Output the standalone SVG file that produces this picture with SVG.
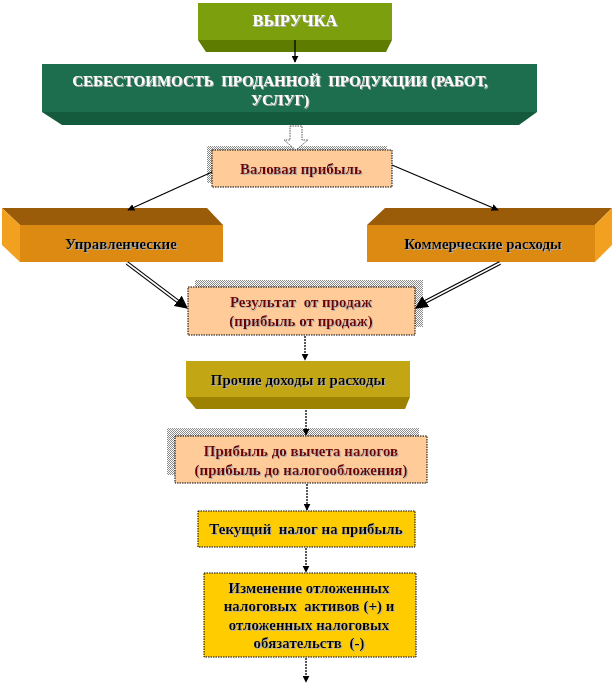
<svg xmlns="http://www.w3.org/2000/svg" width="614" height="685" viewBox="0 0 614 685">
<defs>
<pattern id="chk" width="2" height="2" patternUnits="userSpaceOnUse"><rect width="2" height="2" fill="#ffffff"/><rect width="1" height="1" fill="#8a8a8a"/><rect x="1" y="1" width="1" height="1" fill="#8a8a8a"/></pattern>
<marker id="ah" viewBox="0 0 10 10" refX="9" refY="5" markerWidth="7" markerHeight="7" orient="auto" markerUnits="userSpaceOnUse"><path d="M0,0 L10,5 L0,10 z" fill="#000"/></marker>
<marker id="ahb" viewBox="0 0 10 10" refX="9" refY="5" markerWidth="13" markerHeight="13" orient="auto" markerUnits="userSpaceOnUse"><path d="M0,0 L10,5 L0,10 z" fill="#000"/></marker>
<filter id="ts" x="-5%" y="-20%" width="110%" height="140%"><feDropShadow dx="1" dy="1" stdDeviation="0" flood-color="#b0b0b0"/></filter>
</defs>
<style>
text{font-family:"Liberation Serif","Times New Roman",serif;font-weight:bold;font-size:15px;text-anchor:middle;white-space:pre}
.w{fill:#ffffff}
.r{fill:#6e0000}
.k{fill:#000000}
.big{font-size:16.5px}
.peach{fill:#ffcc99;stroke:#000;stroke-width:1;stroke-dasharray:1.5 1}
.gold{fill:#ffcc00;stroke:#000;stroke-width:1;stroke-dasharray:1.5 1}
.sh{fill:url(#chk)}
.dl{stroke:#000;stroke-width:1.3;stroke-dasharray:2 1;fill:none}
</style>

<g id="vyruchka">
<polygon points="198,40 392,40 386,52 206,52" fill="#5e7d00"/>
<rect x="198" y="3" width="194" height="37" fill="#7c9f0e"/>
<text x="295" y="26" class="w big" filter="url(#ts)">ВЫРУЧКА</text>
</g>

<g id="sebestoimost">
<polygon points="42,112 537,112 519,125 62,125" fill="#145a3d"/>
<rect x="42" y="64" width="495" height="48" fill="#1c6e4e"/>
<text x="280" y="86" class="w" filter="url(#ts)">СЕБЕСТОИМОСТЬ  ПРОДАННОЙ  ПРОДУКЦИИ (РАБОТ,</text>
<text x="280" y="105" class="w" filter="url(#ts)">УСЛУГ)</text>
</g>

<g id="valovaya">
<rect x="207" y="146" width="180" height="37" class="sh"/>
<rect x="212" y="150" width="180" height="37" class="peach"/>
<text x="301" y="174" class="r" filter="url(#ts)">Валовая прибыль</text>
</g>

<g id="upravl">
<polygon points="2,208 207,208 223,225 20,225" fill="#9a5c08"/>
<polygon points="2,208 20,225 20,262 2,245" fill="#f2a020"/>
<rect x="20" y="225" width="203" height="37" fill="#dd8a12"/>
<text x="121" y="249" class="k" filter="url(#ts)">Управленческие</text>
</g>

<g id="kommerch">
<polygon points="385,208 612,208 595,225 367,225" fill="#9a5c08"/>
<polygon points="595,225 612,208 612,245 595,262" fill="#f2a020"/>
<rect x="367" y="225" width="228" height="37" fill="#dd8a12"/>
<text x="483" y="249" class="k" filter="url(#ts)">Коммерческие расходы</text>
</g>

<g id="rezultat">
<rect x="195" y="280" width="228" height="47" class="sh"/>
<rect x="188" y="287" width="227" height="48" class="peach"/>
<text x="301" y="307" class="r" filter="url(#ts)">Результат  от продаж</text>
<text x="301" y="326" class="r" filter="url(#ts)">(прибыль от продаж)</text>
</g>

<g id="prochie">
<polygon points="186,397 410,397 405,409 196,409" fill="#9c8200"/>
<rect x="186" y="361" width="224" height="36" fill="#c2a614"/>
<text x="298" y="385" class="k" filter="url(#ts)">Прочие доходы и расходы</text>
</g>

<g id="do_nalogov">
<rect x="167" y="428" width="252" height="47" class="sh"/>
<rect x="175" y="436" width="252" height="47" class="peach"/>
<text x="301" y="456" class="r" filter="url(#ts)">Прибыль до вычета налогов</text>
<text x="301" y="475" class="r" filter="url(#ts)">(прибыль до налогообложения)</text>
</g>

<g id="tekushiy">
<rect x="198" y="511" width="217" height="36" class="gold"/>
<text x="306" y="534" class="k" filter="url(#ts)">Текущий  налог на прибыль</text>
</g>

<g id="izmenenie">
<rect x="204" y="573" width="212" height="84" class="gold"/>
<text x="309" y="593" class="k" filter="url(#ts)">Изменение отложенных</text>
<text x="309" y="611" class="k" filter="url(#ts)">налоговых  активов (+) и</text>
<text x="309" y="630" class="k" filter="url(#ts)">отложенных налоговых</text>
<text x="309" y="648" class="k" filter="url(#ts)">обязательств  (-)</text>
</g>

<g id="connectors">
<line x1="295" y1="40" x2="295" y2="62" stroke="#000" stroke-width="1.3" marker-end="url(#ah)"/>
<polygon points="290,126 302,126 302,140 308,140 296,150 284,140 290,140" fill="#fff" stroke="#555" stroke-width="1" stroke-dasharray="1.5 1"/>
<line x1="212" y1="172" x2="128" y2="210" stroke="#000" stroke-width="1.2" marker-end="url(#ah)"/>
<line x1="392" y1="165" x2="498" y2="210" stroke="#000" stroke-width="1.2" marker-end="url(#ah)"/>
<line x1="127" y1="263" x2="180" y2="303" stroke="#000" stroke-width="4"/>
<line x1="127" y1="263" x2="180" y2="303" stroke="#fff" stroke-width="1.6"/>
<line x1="178" y1="301" x2="187" y2="308" stroke="#000" stroke-width="1" marker-end="url(#ahb)"/>
<line x1="500" y1="263" x2="423" y2="303" stroke="#000" stroke-width="4"/>
<line x1="500" y1="263" x2="423" y2="303" stroke="#fff" stroke-width="1.6"/>
<line x1="425" y1="302" x2="416" y2="308" stroke="#000" stroke-width="1" marker-end="url(#ahb)"/>
<line x1="305" y1="336" x2="305" y2="360" class="dl" marker-end="url(#ah)"/>
<line x1="306" y1="410" x2="306" y2="435" class="dl" marker-end="url(#ah)"/>
<line x1="307" y1="484" x2="307" y2="510" class="dl" marker-end="url(#ah)"/>
<line x1="306" y1="548" x2="306" y2="572" class="dl" marker-end="url(#ah)"/>
<line x1="306" y1="658" x2="306" y2="682" class="dl" marker-end="url(#ah)"/>
</g>
</svg>
